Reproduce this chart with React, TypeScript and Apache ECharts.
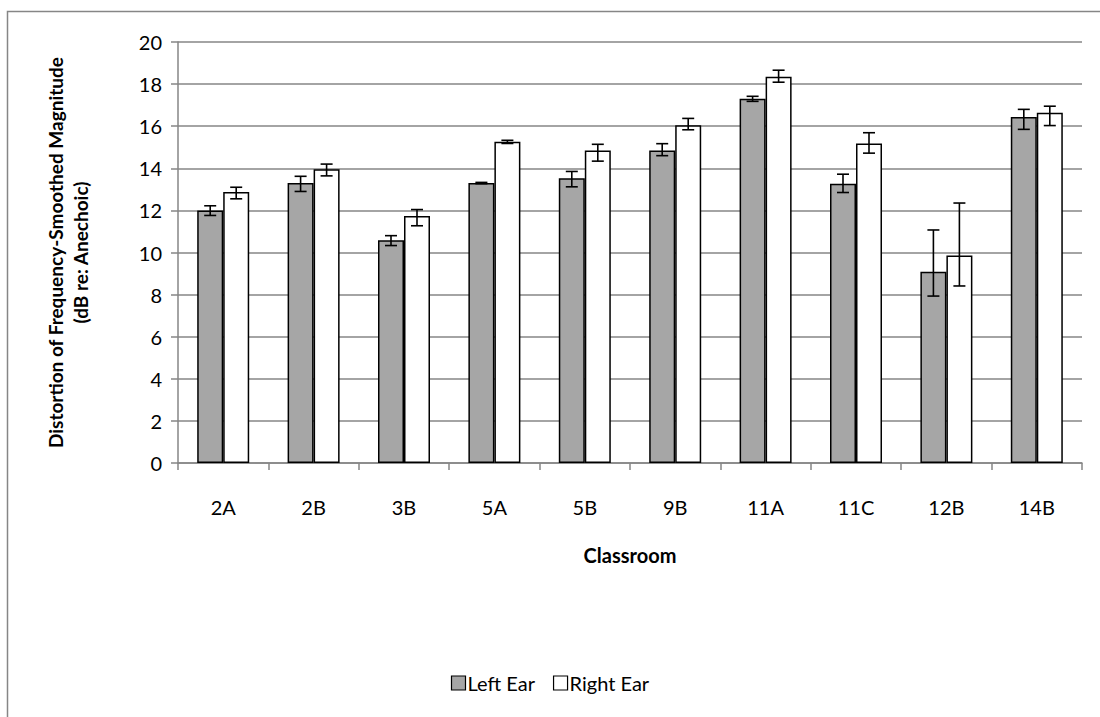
import React, { useEffect, useRef } from "react";
import * as echarts from "echarts";

const categories = ["2A", "2B", "3B", "5A", "5B", "9B", "11A", "11C", "12B", "14B"];
const leftEar = [12.0, 13.3, 10.58, 13.3, 13.53, 14.84, 17.3, 13.27, 9.08, 16.44];
const leftLow = [11.76, 12.9, 10.33, 13.27, 13.12, 14.6, 17.18, 12.85, 7.93, 15.85];
const leftHigh = [12.22, 13.62, 10.8, 13.33, 13.85, 15.17, 17.42, 13.72, 11.07, 16.8];
const rightEar = [12.88, 13.96, 11.73, 15.26, 14.84, 16.04, 18.35, 15.18, 9.86, 16.64];
const rightLow = [12.55, 13.64, 11.27, 15.18, 14.34, 15.83, 18.09, 14.72, 8.41, 16.03];
const rightHigh = [13.1, 14.2, 12.04, 15.33, 15.14, 16.37, 18.66, 15.69, 12.35, 16.95];
const yTicks = { min: 0, max: 20, interval: 2 };

const FONT = "Lato, 'Open Sans', sans-serif";
const BAR_W = 26;
const GRID = "#868686";

function errorSeries(low: number[], high: number[], offset: number) {
  return {
    type: "custom",
    z: 10,
    silent: true,
    data: categories.map((_, i) => [i, low[i], high[i]]),
    renderItem: (params: any, api: any) => {
      const i = api.value(0);
      const lo = api.coord([i, api.value(1)]);
      const hi = api.coord([i, api.value(2)]);
      const x = lo[0] + offset;
      const cap = 6;
      const style = { stroke: "#000", lineWidth: 1.6 };
      return {
        type: "group",
        children: [
          { type: "line", shape: { x1: x, y1: lo[1], x2: x, y2: hi[1] }, style },
          { type: "line", shape: { x1: x - cap, y1: lo[1], x2: x + cap, y2: lo[1] }, style },
          { type: "line", shape: { x1: x - cap, y1: hi[1], x2: x + cap, y2: hi[1] }, style },
        ],
      };
    },
  };
}

export default function App() {
  const ref = useRef<HTMLDivElement>(null);
  useEffect(() => {
    if (!ref.current) return;
    const chart = echarts.init(ref.current, null, { renderer: "svg" });
    chart.setOption({
      animation: false,
      backgroundColor: "#fff",
      textStyle: { fontFamily: FONT },
      graphic: [
        {
          type: "polyline",
          shape: { points: [[7.5, 717], [7.5, 11.5], [1100, 11.5]] },
          style: { stroke: GRID, lineWidth: 1.5, fill: null },
          silent: true,
        },
      ],
      grid: { left: 178, top: 42, width: 904, height: 421, containLabel: false },
      legend: {
        left: "center",
        top: 668,
        itemWidth: 14,
        itemHeight: 14,
        itemGap: 18,
        icon: "rect",
        textStyle: { fontFamily: FONT, fontSize: 20, color: "#000", padding: [0, 0, 0, -3] },
        data: [
          { name: "Left Ear", itemStyle: { borderColor: "#000", borderWidth: 1.2 } },
          { name: "Right Ear", itemStyle: { borderColor: "#000", borderWidth: 1.2 } },
        ],
      },
      xAxis: {
        type: "category",
        data: categories,
        name: "Classroom",
        nameLocation: "middle",
        nameGap: 82,
        nameTextStyle: { fontFamily: FONT, fontSize: 20, fontWeight: "bold", color: "#000" },
        axisLine: { lineStyle: { color: GRID, width: 1.5 } },
        axisTick: { show: true, length: 7, lineStyle: { color: GRID, width: 1.5 } },
        axisLabel: { margin: 34, fontFamily: FONT, fontSize: 20, color: "#000" },
      },
      yAxis: {
        type: "value",
        min: yTicks.min,
        max: yTicks.max,
        interval: yTicks.interval,
        name: "Distortion of Frequency-Smoothed Magnitude\n(dB re: Anechoic)",
        nameLocation: "middle",
        nameRotate: 90,
        nameGap: 85,
        nameTextStyle: { fontFamily: FONT, fontSize: 19, fontWeight: "bold", color: "#000", lineHeight: 25 },
        axisLine: { show: true, lineStyle: { color: GRID, width: 1.5 } },
        axisTick: { show: true, length: 7, lineStyle: { color: GRID, width: 1.5 } },
        axisLabel: { margin: 16, fontFamily: FONT, fontSize: 20, color: "#000" },
        splitLine: { lineStyle: { color: GRID, width: 1.5 } },
      },
      series: [
        {
          name: "Left Ear",
          type: "bar",
          data: leftEar,
          barWidth: BAR_W,
          barGap: "0%",
          itemStyle: { color: "#a6a6a6", borderColor: "#000", borderWidth: 1.5 },
        },
        {
          name: "Right Ear",
          type: "bar",
          data: rightEar,
          barWidth: BAR_W,
          barGap: "0%",
          itemStyle: { color: "#ffffff", borderColor: "#000", borderWidth: 1.5 },
        },
        errorSeries(leftLow, leftHigh, -BAR_W / 2),
        errorSeries(rightLow, rightHigh, BAR_W / 2),
      ],
    });
    return () => chart.dispose();
  }, []);
  return <div ref={ref} style={{ position: "fixed", left: 0, top: 0, width: 1100, height: 717 }} />;
}
